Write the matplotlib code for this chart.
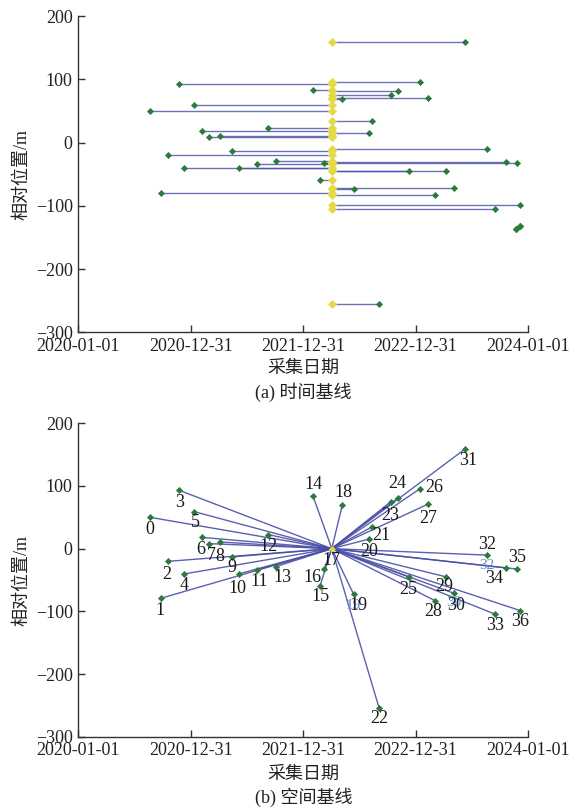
import numpy as np
import matplotlib
matplotlib.use("Agg")
import matplotlib.pyplot as plt
import matplotlib.dates as mdates

plt.rcParams["font.family"] = ["Liberation Serif", "Noto Sans CJK SC"]
plt.rcParams["axes.unicode_minus"] = True

# Acquisition catalogue: index, acquisition date, perpendicular baseline (m)
scene_ids = list(range(37))
acq_dates = [
    "2020-08-21", "2020-09-25", "2020-10-19", "2020-11-24", "2020-12-08",
    "2021-01-12", "2021-02-06", "2021-03-01", "2021-04-06", "2021-05-13",
    "2021-06-07", "2021-08-04", "2021-09-09", "2021-10-04", "2022-02-01",
    "2022-02-24", "2022-03-10", "2022-04-03", "2022-05-07", "2022-06-13",
    "2022-08-01", "2022-08-12", "2022-09-04", "2022-10-11", "2022-11-04",
    "2022-12-11", "2023-01-15", "2023-02-08", "2023-03-04", "2023-04-09",
    "2023-05-05", "2023-06-10", "2023-08-20", "2023-09-14", "2023-10-20",
    "2023-11-25", "2023-12-06",
]
baselines_m = [
    50.0, -79.2, -20.2, 93.0, -40.5,
    59.0, 18.0, 8.0, 10.6, -13.2,
    -40.0, -33.6, 22.5, -28.6, 83.8,
    -59.0, -31.8, 0.0, 69.5, -72.8,
    15.2, 34.8, -255.0, 74.7, 81.0,
    -45.2, 95.8, 70.7, -82.9, -45.0,
    -71.2, 159.1, -10.3, -104.3, -30.7,
    -32.5, -98.8,
]
master_index = 17

# Scenes outside the interferometric network (temporal panel only)
unpaired_dates = ["2023-11-23", "2023-12-04"]
unpaired_baselines_m = [-137.0, -132.0]

tick_dates = ["2020-01-01", "2020-12-31", "2021-12-31", "2022-12-31", "2024-01-01"]
tick_labels = ["2020-01-01", "2020-12-31", "2021-12-31", "2022-12-31", "2024-01-01"]
y_ticks = [200, 100, 0, -100, -200, -300]

# Scene-number label placement (pixel offsets from each point, x right / y up)
label_offsets = [
    (0, -12), (-1, -12), (-1, -13), (0, -12), (0, -11),
    (1, -11), (-1, -12), (2, -12), (0, -14), (0, -11),
    (-2, -15), (2, -12), (0, -12), (6, -11), (0, 12),
    (0, -11), (-12, -9), (0, -12), (1, 13), (5, -11),
    (0, -12), (9, -9), (0, -10), (0, -14), (-1, 14),
    (-1, -13), (14, 1), (1, -14), (-2, -11), (-2, -10),
    (2, -12), (3, -12), (0, 11), (0, -11), (-12, -11),
    (0, 12), (0, -11),
]
# Secondary (light blue) scene labels
echo_ids = [19, 30, 32]
echo_offsets = [(0, -11), (0, -9), (0, -10)]

GREEN = "#2b7a3b"
YELLOW = "#e3da45"
LINE = "#4a4fa6"
ECHO = "#5b8fd2"
FS = 13

dates = mdates.date2num(np.array(acq_dates, dtype="datetime64[D]"))
bl = np.array(baselines_m)
m_date = dates[master_index]
m_bl = bl[master_index]
u_dates = mdates.date2num(np.array(unpaired_dates, dtype="datetime64[D]"))
ticks = mdates.date2num(np.array(tick_dates, dtype="datetime64[D]"))
slaves = [i for i in scene_ids if i != master_index]

W, H = 579, 809
fig = plt.figure(figsize=(W / 100, H / 100), dpi=100)
ax_l = 78.3 / W
ax_w = 450.0 / W
ax_t = fig.add_axes([ax_l, 1 - 332.3 / H, ax_w, 316.3 / H])
ax_s = fig.add_axes([ax_l, 1 - 736.7 / H, ax_w, 313.4 / H])


def style(ax):
    ax.set_xlim(ticks[0], ticks[-1])
    ax.set_ylim(-300, 200)
    ax.set_xticks(ticks)
    ax.set_xticklabels(tick_labels)
    ax.set_yticks(y_ticks)
    for s in ("top", "right"):
        ax.spines[s].set_visible(False)
    for s in ("left", "bottom"):
        ax.spines[s].set_color("#333333")
        ax.spines[s].set_linewidth(1.0)
    ax.tick_params(direction="in", length=5, width=1.0, color="#333333",
                   labelsize=FS, labelcolor="#222222")
    ax.tick_params(axis="x", pad=4)
    ax.tick_params(axis="y", pad=4)
    ax.set_ylabel("相对位置/m", fontsize=FS, color="#222222")
    ax.yaxis.set_label_coords(-0.107, 0.5)
    ax.set_xlabel("采集日期", fontsize=FS, color="#222222")
    ax.patch.set_alpha(0)


# (a) temporal baselines: each scene linked to the master date at its own baseline
for i in slaves:
    ax_t.plot([dates[i], m_date], [bl[i], bl[i]], color=LINE, lw=1.0,
              alpha=0.8, zorder=2, solid_capstyle="butt")
ax_t.plot(np.full(len(slaves), m_date), bl[slaves], ls="none", marker="D",
          ms=3.6, mfc=YELLOW, mec=YELLOW, mew=0.5, zorder=3)
ax_t.plot(dates[slaves], bl[slaves], ls="none", marker="D", ms=3.1,
          mfc=GREEN, mec=GREEN, mew=0.5, zorder=4)
ax_t.plot(u_dates, unpaired_baselines_m, ls="none", marker="D", ms=3.4,
          mfc=GREEN, mec=GREEN, mew=0.5, zorder=4)
style(ax_t)
ax_t.xaxis.set_label_coords(0.5, -0.088)

# (b) spatial baselines: star network from the master scene
for i in slaves:
    ax_s.plot([m_date, dates[i]], [m_bl, bl[i]], color=LINE, lw=1.0,
              alpha=0.9, zorder=2)
ax_s.plot(dates, bl, ls="none", marker="D", ms=3.1,
          mfc=GREEN, mec=GREEN, mew=0.5, zorder=4)
ax_s.plot([m_date], [m_bl], ls="none", marker="D", ms=3.0,
          mfc=YELLOW, mec=YELLOW, mew=0.5, zorder=5)
for i, off in zip(echo_ids, echo_offsets):
    ax_s.annotate(str(i), (dates[i], bl[i]), xytext=off,
                  textcoords="offset pixels", ha="center", va="center",
                  fontsize=FS - 2, color=ECHO, zorder=5)
for i in scene_ids:
    ax_s.annotate(str(i), (dates[i], bl[i]), xytext=label_offsets[i],
                  textcoords="offset pixels", ha="center", va="center",
                  fontsize=FS, color="#1a1a1a", zorder=6)
style(ax_s)
ax_s.xaxis.set_label_coords(0.5, -0.094)

fig.text(ax_l + ax_w / 2, 1 - 392 / H, "(a) 时间基线", ha="center", va="center",
         fontsize=FS, color="#222222")
fig.text(ax_l + ax_w / 2, 1 - 797 / H, "(b) 空间基线", ha="center", va="center",
         fontsize=FS, color="#222222")

fig.savefig("out.png", dpi=100, facecolor="white")
